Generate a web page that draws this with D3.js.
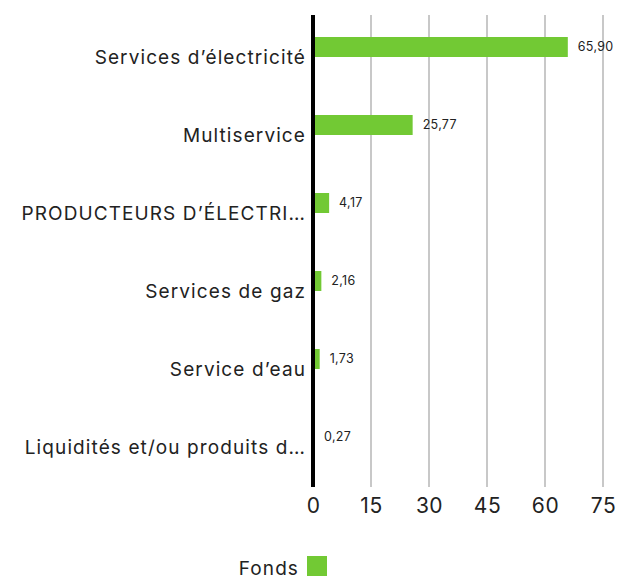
<!DOCTYPE html>
<html>
<head>
<meta charset="utf-8">
<script src="https://cdn.jsdelivr.net/npm/d3@7"></script>
<style>
  body { margin: 0; background: #fff; }
  svg { display: block; font-family: Inter, "Noto Sans", sans-serif; }
</style>
</head>
<body>
<svg id="chart" width="618" height="576"></svg>
<script>
const categories = [
  "Services d\u2019électricité",
  "Multiservice",
  "PRODUCTEURS D\u2019ÉLECTRI\u2026",
  "Services de gaz",
  "Service d\u2019eau",
  "Liquidités et/ou produits d\u2026"
];
const fonds = [65.90, 25.77, 4.17, 2.16, 1.73, 0.27];
const ticks = [0, 15, 30, 45, 60, 75];
const seriesName = "Fonds";

const svg = d3.select("#chart");
const plotLeft = 313, plotRight = 603, plotTop = 15, plotBottom = 487;

const x = d3.scaleLinear().domain([0, 75]).range([plotLeft, plotRight]);
const y = d3.scaleBand().domain(categories).range([18, 486]);

const fmt = v => d3.format(".2f")(v).replace(".", ",");

// grid
svg.append("g").selectAll("line")
  .data(ticks.filter(t => t > 0))
  .join("line")
  .attr("x1", d => x(d)).attr("x2", d => x(d))
  .attr("y1", plotTop).attr("y2", plotBottom)
  .attr("stroke", "#c8c8c8").attr("stroke-width", 2);

// bars
const barH = 20;
svg.append("g").selectAll("rect")
  .data(fonds)
  .join("rect")
  .attr("x", x(0))
  .attr("y", (d, i) => y(categories[i]) + y.bandwidth() / 2 - barH)
  .attr("width", d => x(d) - x(0))
  .attr("height", barH)
  .attr("fill", "#72c934");

// value labels
svg.append("g").selectAll("text")
  .data(fonds)
  .join("text")
  .attr("x", d => x(d) + 10)
  .attr("y", (d, i) => y(categories[i]) + y.bandwidth() / 2 - barH / 2)
  .attr("dy", "0.35em")
  .attr("font-size", 12.5)
  .attr("letter-spacing", 0.3)
  .attr("fill", "#222")
  .text(fmt);

// category labels
svg.append("g").selectAll("text")
  .data(categories)
  .join("text")
  .attr("x", plotLeft - 7)
  .attr("y", d => y(d) + y.bandwidth() / 2)
  .attr("dy", "0.35em")
  .attr("text-anchor", "end")
  .attr("font-size", 19)
  .attr("letter-spacing", 1.1)
  .attr("fill", "#222")
  .text(d => d);

// zero axis line
svg.append("line")
  .attr("x1", x(0)).attr("x2", x(0))
  .attr("y1", plotTop).attr("y2", plotBottom)
  .attr("stroke", "#000").attr("stroke-width", 4);

// x tick labels
const xAxis = svg.append("g")
  .attr("transform", `translate(0,${plotBottom + 7})`)
  .call(d3.axisBottom(x).tickValues(ticks).tickSize(0).tickPadding(4));
xAxis.select(".domain").remove();
xAxis.selectAll("text")
  .attr("font-family", "Inter, 'Noto Sans', sans-serif")
  .attr("font-size", 21)
  .attr("letter-spacing", 0.5)
  .attr("fill", "#222");

// legend
const legend = svg.append("g");
legend.append("text")
  .attr("x", 299).attr("y", 575)
  .attr("text-anchor", "end")
  .attr("font-size", 19)
  .attr("letter-spacing", 1.1)
  .attr("fill", "#222")
  .text(seriesName);
legend.append("rect")
  .attr("x", 307).attr("y", 556)
  .attr("width", 20).attr("height", 20)
  .attr("fill", "#72c934");
</script>
</body>
</html>
